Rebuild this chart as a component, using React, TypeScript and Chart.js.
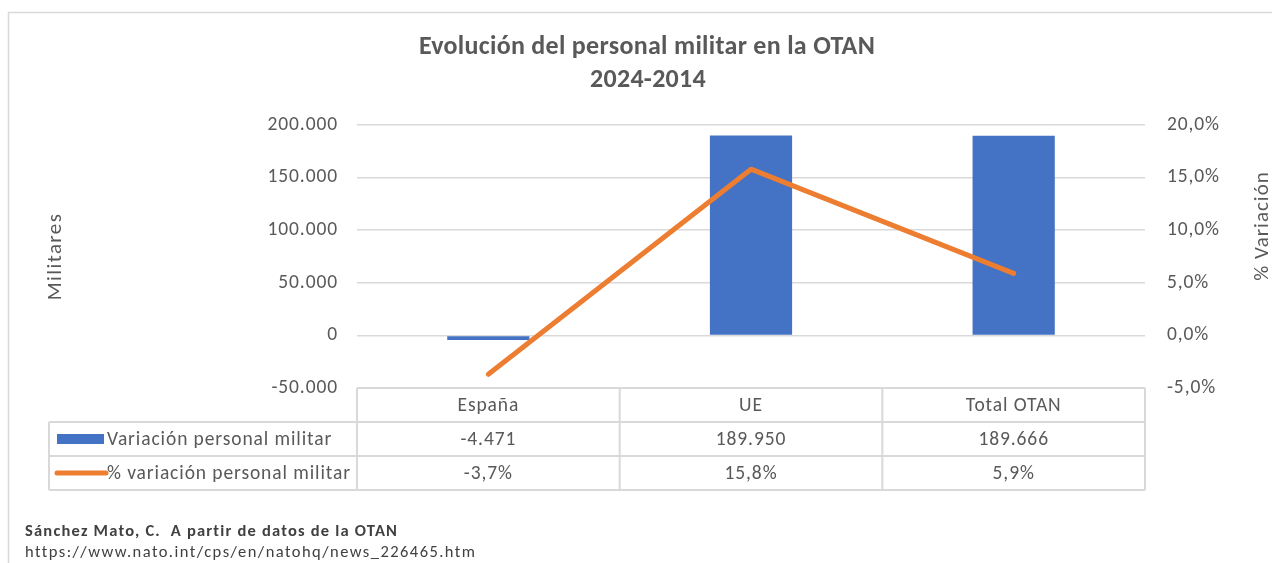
import React, { useEffect, useRef } from "react";
import { Chart, registerables } from "chart.js";

Chart.register(...registerables);

const categories = ["España", "UE", "Total OTAN"];
const personalValues = [-4471, 189950, 189666];
const percentValues = [-3.7, 15.8, 5.9];
const seriesNames = ["Variación personal militar", "% variación personal militar"];
const titleLines = ["Evolución del personal militar en la OTAN", "2024-2014"];
const leftAxisTitle = "Militares";
const rightAxisTitle = "% Variación";
const footerLines = ["Sánchez Mato, C.  A partir de datos de la OTAN", "https://www.nato.int/cps/en/natohq/news_226465.htm"];

const FONT = "Carlito, Lato, sans-serif";
const TEXT = "#595959";
const BORDER = "#d9d9d9";
const BLUE = "#4472C4";
const ORANGE = "#ED7D31";

const fmtThousands = (v: number) => {
  const s = Math.abs(Math.round(v)).toString().replace(/\B(?=(\d{3})+(?!\d))/g, ".");
  return (v < 0 ? "-" : "") + s;
};
const fmtPct = (v: number) => v.toFixed(1).replace(".", ",") + "%";

const setSpacing = (ctx: any, px: number) => {
  if ("letterSpacing" in ctx) ctx.letterSpacing = px + "px";
};

const decorPlugin = {
  id: "decor",
  beforeDraw(chart: any) {
    const ctx = chart.ctx;
    ctx.save();
    ctx.fillStyle = "#ffffff";
    ctx.fillRect(0, 0, chart.width, chart.height);
    ctx.strokeStyle = BORDER;
    ctx.lineWidth = 1.5;
    ctx.strokeRect(8.5, 12.5, chart.width + 20, chart.height + 20);
    ctx.restore();
    setSpacing(ctx, 0.9);
  },
  afterDraw(chart: any) {
    const ctx = chart.ctx;
    const area = chart.chartArea;
    const xs = chart.scales.x;
    const ys = chart.scales.y;
    const y1 = chart.scales.y1;
    ctx.save();

    // chart title
    ctx.fillStyle = TEXT;
    ctx.textAlign = "center";
    ctx.textBaseline = "middle";
    ctx.font = `bold 26px ${FONT}`;
    setSpacing(ctx, 0.3);
    ctx.fillText(titleLines[0], 647, 47);
    ctx.fillText(titleLines[1], 648, 80);

    // axis titles (both read bottom to top)
    ctx.font = `21px ${FONT}`;
    setSpacing(ctx, 1.4);
    ctx.save();
    ctx.translate(ys.left + 56, (area.top + area.bottom) / 2);
    ctx.rotate(-Math.PI / 2);
    ctx.fillText(leftAxisTitle, 0, 0);
    ctx.restore();
    ctx.save();
    setSpacing(ctx, 1.0);
    ctx.translate(y1.right - 9, area.top + 101);
    ctx.rotate(-Math.PI / 2);
    ctx.fillText(rightAxisTitle, 0, 0);
    ctx.restore();

    // data table
    const n = categories.length;
    const colW = xs.getPixelForValue(1) - xs.getPixelForValue(0);
    const tableLeft = xs.getPixelForValue(0) - colW / 2;
    const tableRight = xs.getPixelForValue(n - 1) + colW / 2;
    const top = area.bottom;
    const rowH = (xs.bottom - xs.top) / 3;
    const labelLeft = 49;

    ctx.strokeStyle = BORDER;
    ctx.lineWidth = 2;
    ctx.beginPath();
    ctx.moveTo(tableLeft, top);
    ctx.lineTo(tableRight, top);
    for (let i = 0; i <= n; i++) {
      const x = tableLeft + i * colW;
      ctx.moveTo(x, top);
      ctx.lineTo(x, top + 3 * rowH);
    }
    for (let r = 1; r <= 3; r++) {
      ctx.moveTo(labelLeft, top + r * rowH);
      ctx.lineTo(tableRight, top + r * rowH);
    }
    ctx.moveTo(labelLeft, top + rowH);
    ctx.lineTo(labelLeft, top + 3 * rowH);
    ctx.stroke();

    ctx.fillStyle = TEXT;
    ctx.font = `19.5px ${FONT}`;
    setSpacing(ctx, 0.9);
    ctx.textAlign = "center";
    ctx.textBaseline = "middle";
    for (let i = 0; i < n; i++) {
      const cx = xs.getPixelForValue(i);
      ctx.fillText(categories[i], cx, top + rowH * 0.5 + 1);
      ctx.fillText(fmtThousands(personalValues[i]), cx, top + rowH * 1.5 + 1);
      ctx.fillText(fmtPct(percentValues[i]), cx, top + rowH * 2.5 + 1);
    }
    // legend keys
    ctx.fillStyle = BLUE;
    ctx.fillRect(labelLeft + 8, top + rowH * 1.5 - 5, 47, 10);
    ctx.strokeStyle = ORANGE;
    ctx.lineWidth = 5;
    ctx.lineCap = "round";
    ctx.beginPath();
    ctx.moveTo(labelLeft + 8, top + rowH * 2.5);
    ctx.lineTo(labelLeft + 57, top + rowH * 2.5);
    ctx.stroke();
    ctx.fillStyle = TEXT;
    ctx.textAlign = "left";
    ctx.fillText(seriesNames[0], labelLeft + 58, top + rowH * 1.5 + 1);
    ctx.fillText(seriesNames[1], labelLeft + 58, top + rowH * 2.5 + 1);

    // footer
    ctx.fillStyle = "#404040";
    ctx.font = `bold 16.5px ${FONT}`;
    setSpacing(ctx, 1.2);
    ctx.fillText(footerLines[0], 25, 532);
    ctx.font = `16.5px ${FONT}`;
    setSpacing(ctx, 1.45);
    ctx.fillText(footerLines[1], 25, 553);
    ctx.restore();
    setSpacing(ctx, 0);
  },
};

export default function App() {
  const ref = useRef<HTMLCanvasElement | null>(null);
  useEffect(() => {
    if (!ref.current) return;
    const chart = new Chart(ref.current, {
      type: "bar",
      data: {
        labels: categories,
        datasets: [
          {
            type: "line",
            label: seriesNames[1],
            data: percentValues,
            yAxisID: "y1",
            borderColor: ORANGE,
            backgroundColor: ORANGE,
            borderWidth: 5,
            borderCapStyle: "round",
            borderJoinStyle: "round",
            pointRadius: 0,
            tension: 0,
            order: 0,
          } as any,
          {
            type: "bar",
            label: seriesNames[0],
            data: personalValues,
            yAxisID: "y",
            backgroundColor: BLUE,
            barPercentage: 0.313,
            categoryPercentage: 1,
            order: 1,
          },
        ],
      },
      plugins: [decorPlugin],
      options: {
        responsive: false,
        animation: false,
        devicePixelRatio: 1,
        layout: { padding: { left: 0, right: 0, top: 125, bottom: 73 } },
        plugins: {
          legend: { display: false },
          tooltip: { enabled: false },
          title: { display: false },
        },
        scales: {
          x: {
            position: "bottom",
            grid: { display: false },
            border: { display: false },
            ticks: { display: false },
            afterFit: (s: any) => {
              s.height = 102;
            },
          },
          y: {
            position: "left",
            min: -50000,
            max: 200000,
            grid: { color: BORDER, lineWidth: 1.5, drawTicks: false },
            border: { display: false },
            ticks: {
              stepSize: 50000,
              padding: 19,
              color: TEXT,
              font: { family: FONT, size: 19.5 },
              callback: (v: any) => fmtThousands(Number(v)),
            },
            afterFit: (s: any) => {
              s.width = 357;
            },
          },
          y1: {
            position: "right",
            min: -5,
            max: 20,
            grid: { display: false, drawTicks: false },
            border: { display: false },
            ticks: {
              stepSize: 5,
              padding: 22,
              color: TEXT,
              font: { family: FONT, size: 19.5 },
              callback: (v: any) => fmtPct(Number(v)),
            },
            afterFit: (s: any) => {
              s.width = 127;
            },
          },
        },
      } as any,
    });
    return () => chart.destroy();
  }, []);
  return (
    <div style={{ position: "fixed", left: 0, top: 0, width: 1272, height: 563, background: "#fff" }}>
      <canvas ref={ref} width={1272} height={563} style={{ display: "block" }} />
    </div>
  );
}
